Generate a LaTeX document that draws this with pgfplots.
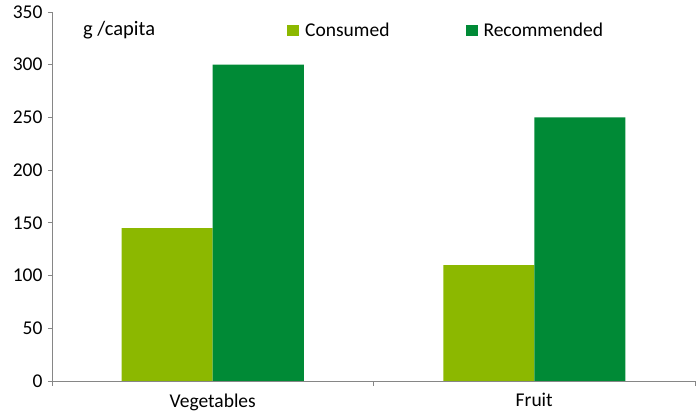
\documentclass[border=0pt]{standalone}
\usepackage{pgfplots}
\pgfplotsset{compat=1.18}
\usepackage{fontspec}
\setmainfont{Carlito}
\definecolor{cons}{HTML}{8CB800}
\definecolor{reco}{HTML}{008A36}
\definecolor{axgray}{HTML}{868686}
\begin{document}
\begin{tikzpicture}[x=1pt,y=1pt]
\path[use as bounding box] (-52,-38) rectangle (645,381);
\begin{axis}[
  at={(0,0)}, anchor=south west,
  scale only axis, width=643pt, height=369pt,
  xmin=-0.5, xmax=1.5, ymin=0, ymax=350,
  ybar, bar width=91pt,
  ytick={0,50,...,350},
  xtick={0,1}, xticklabels={Vegetables,Fruit},
  minor xtick={-0.5,0.5,1.5},
  major x tick style={draw=none},
  minor x tick style={axgray},
  axis x line*=bottom, axis y line*=left,
  axis line style={axgray, line width=0.8pt},
  y axis line style={-}, x axis line style={-},
  tick style={axgray, line width=0.8pt},
  tick align=outside, major tick length=4pt, minor tick length=5pt,
  ytick style={axgray},
  tick label style={font=\fontsize{19.5}{22}\selectfont, text=black},
  yticklabel style={xshift=-2pt},
  xticklabel style={yshift=-5pt},
  /pgf/number format/assume math mode=true,
  legend style={draw=none, fill=none, at={(0.613,0.951)}, anchor=center,
    font=\fontsize{19.5}{22}\selectfont, legend columns=2, inner sep=0pt,
    /tikz/every odd column/.append style={column sep=4pt},
    /tikz/every even column/.append style={column sep=74pt}},
  legend image code/.code={\fill[#1] (0pt,-5.5pt) rectangle (12pt,5.5pt);},
]
\addplot[fill=cons, draw=none, bar shift=-45.5pt] coordinates {(0,145) (1,110)};
\addplot[fill=reco, draw=none, bar shift=45.5pt] coordinates {(0,300) (1,250)};
\legend{Consumed,Recommended}
\node[anchor=west, inner sep=0pt, font=\fontsize{20.5}{22}\selectfont] at (rel axis cs:0.048,0.951) {g /capita};
\end{axis}
\end{tikzpicture}
\end{document}
